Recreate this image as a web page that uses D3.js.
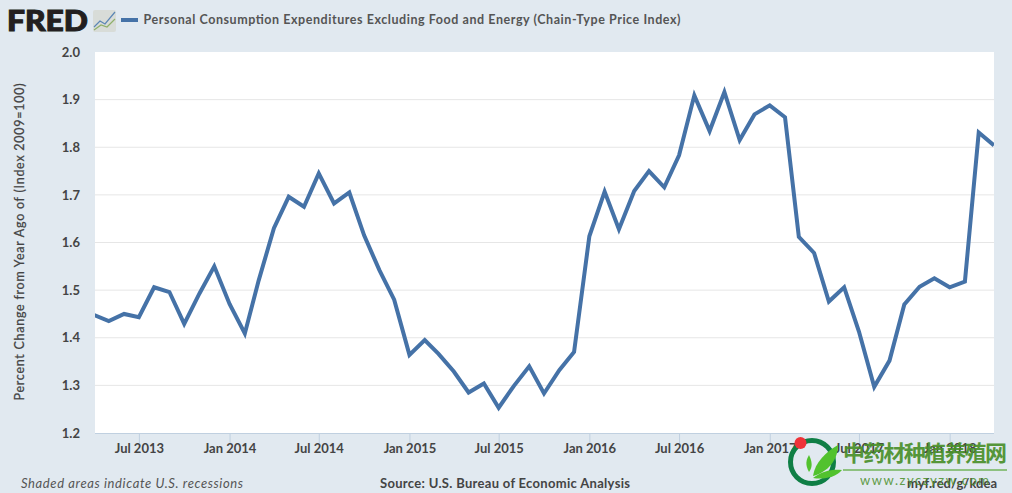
<!DOCTYPE html>
<html>
<head>
<meta charset="utf-8">
<script src="https://cdn.jsdelivr.net/npm/d3@7"></script>
<style>
  html, body { margin: 0; padding: 0; background: #e1e9f0; overflow: hidden; }
  text { font-family: Lato, "Open Sans", sans-serif; fill: #444; }
</style>
</head>
<body>
<svg id="chart" width="1012" height="493"></svg>
<script>
// monthly, Apr 2013 to Apr 2018
const startMonth = "2013-04-01"
const values = [
  1.448, 1.435, 1.450, 1.443, 1.506, 1.496, 1.429, 1.493, 1.550,
  1.471, 1.409, 1.520, 1.630, 1.696, 1.675, 1.745, 1.682, 1.705, 1.615, 1.542, 1.480,
  1.364, 1.395, 1.366, 1.329, 1.285, 1.304, 1.253, 1.299, 1.340, 1.283, 1.332, 1.370,
  1.613, 1.707, 1.628, 1.708, 1.750, 1.716, 1.783, 1.909, 1.834, 1.916, 1.815, 1.869,
  1.888, 1.863, 1.612, 1.578, 1.476, 1.506, 1.413, 1.297, 1.352, 1.470, 1.507, 1.525,
  1.506, 1.518, 1.831, 1.804
]
const yTicks = [1.2, 1.3, 1.4, 1.5, 1.6, 1.7, 1.8, 1.9, 2.0]
const xTickDates = ["2013-07-01", "2014-01-01", "2014-07-01", "2015-01-01", "2015-07-01",
  "2016-01-01", "2016-07-01", "2017-01-01", "2017-07-01", "2018-01-01"]
const seriesName = "Personal Consumption Expenditures Excluding Food and Energy (Chain-Type Price Index)"
const yTitle = "Percent Change from Year Ago of (Index 2009=100)"
const recessionNote = "Shaded areas indicate U.S. recessions"
const sourceNote = "Source: U.S. Bureau of Economic Analysis"
const shortUrl = "myf.red/g/kdea"

const parse = d3.utcParse("%Y-%m-%d")
const dates = d3.utcMonth.range(parse(startMonth), d3.utcMonth.offset(parse(startMonth), values.length))

const plotLeft = 95, plotRight = 994, plotTop = 52, plotBottom = 433

const x = d3.scaleUtc()
  .domain([parse("2013-04-03"), dates[dates.length - 1]])
  .range([plotLeft, plotRight])
const y = d3.scaleLinear().domain([1.2, 2.0]).range([plotBottom, plotTop])

const svg = d3.select("#chart")

svg.append("rect")
  .attr("x", plotLeft).attr("y", plotTop)
  .attr("width", plotRight - plotLeft).attr("height", plotBottom - plotTop)
  .attr("fill", "#fff")

svg.append("clipPath").attr("id", "plot")
  .append("rect")
  .attr("x", plotLeft).attr("y", plotTop)
  .attr("width", plotRight - plotLeft).attr("height", plotBottom - plotTop)

// grid
svg.append("g")
  .selectAll("line")
  .data(yTicks.filter(d => d > 1.2 && d < 2))
  .join("line")
  .attr("x1", plotLeft).attr("x2", plotRight)
  .attr("y1", d => y(d)).attr("y2", d => y(d))
  .attr("stroke", "#e6e6e6")

const xAxis = svg.append("g")
  .attr("transform", `translate(0,${plotBottom})`)
  .call(d3.axisBottom(x)
    .tickValues(xTickDates.map(parse))
    .tickFormat(d3.utcFormat("%b %Y"))
    .tickSize(10)
    .tickPadding(1))
xAxis.select(".domain").attr("stroke", "#c0d0e0").attr("d", `M${plotLeft},0.5H${plotRight}`)
xAxis.selectAll("line").attr("stroke", "#c0d0e0")
xAxis.selectAll("text")
  .attr("font-size", 13)
  .attr("font-weight", 700)
  .style("fill", "#444")
  .style("font-family", "Lato, sans-serif")

const yAxis = svg.append("g")
  .attr("transform", `translate(${plotLeft},0)`)
  .call(d3.axisLeft(y).tickValues(yTicks).tickFormat(d3.format(".1f")).tickSize(0).tickPadding(15))
yAxis.select(".domain").remove()
yAxis.selectAll("text")
  .attr("font-size", 13)
  .attr("font-weight", 700)
  .style("fill", "#444")
  .style("font-family", "Lato, sans-serif")

// series
const line = d3.line()
  .x((d, i) => x(dates[i]))
  .y(d => y(d))

svg.append("path")
  .datum(values)
  .attr("clip-path", "url(#plot)")
  .attr("d", line)
  .attr("fill", "none")
  .attr("stroke", "#4572a7")
  .attr("stroke-width", 4)
  .attr("stroke-linejoin", "miter")

// header
svg.append("text")
  .attr("x", 7).attr("y", 31)
  .attr("font-size", 28).attr("font-weight", 900)
  .attr("textLength", 81).attr("lengthAdjust", "spacingAndGlyphs")
  .style("fill", "#231f20")
  .style("stroke", "#231f20").style("stroke-width", 1)
  .text("FRED")

const badge = svg.append("g")
badge.append("rect")
  .attr("x", 93).attr("y", 10).attr("width", 23).attr("height", 22).attr("rx", 2)
  .attr("fill", "#d8dcd8")
badge.append("polyline")
  .attr("points", "94,27 100,21 105,24 115,12")
  .attr("fill", "none").attr("stroke", "#5b86b5").attr("stroke-width", 1.2)
badge.append("polyline")
  .attr("points", "94,30 101,25 107,27 115,19")
  .attr("fill", "none").attr("stroke", "#8fb06a").attr("stroke-width", 1.2)

svg.append("line")
  .attr("x1", 121).attr("x2", 138).attr("y1", 20).attr("y2", 20)
  .attr("stroke", "#4572a7").attr("stroke-width", 4)

svg.append("text")
  .attr("x", 143.5).attr("y", 24)
  .attr("font-size", 12.5).attr("font-weight", 700)
  .attr("textLength", 537).attr("lengthAdjust", "spacing")
  .style("fill", "#555")
  .text(seriesName)

svg.append("text")
  .attr("transform", "translate(24,242) rotate(-90)")
  .attr("text-anchor", "middle")
  .attr("font-size", 12.5)
  .attr("textLength", 317)
  .style("fill", "#444")
  .style("stroke", "#444").style("stroke-width", 0.25)
  .text(yTitle)

// footer
svg.append("text")
  .attr("x", 21).attr("y", 488)
  .attr("font-size", 13).attr("font-style", "italic")
  .attr("textLength", 222)
  .style("fill", "#555")
  .text(recessionNote)

svg.append("text")
  .attr("x", 380).attr("y", 488)
  .attr("font-size", 13).attr("font-weight", 700)
  .attr("textLength", 250)
  .style("fill", "#444")
  .text(sourceNote)

svg.append("text")
  .attr("x", 997).attr("y", 488)
  .attr("text-anchor", "end")
  .attr("font-size", 13).attr("font-weight", 700)
  .style("fill", "#444")
  .text(shortUrl)

// site watermark stamped over the corner
const stamp = svg.append("g")
stamp.append("circle")
  .attr("cx", 812).attr("cy", 462).attr("r", 21.5)
  .attr("fill", "none").attr("stroke", "#0f7f45").attr("stroke-width", 5)
stamp.append("circle")
  .attr("cx", 800.5).attr("cy", 443).attr("r", 6).attr("fill", "#ee3338")
stamp.append("path")
  .attr("d", "M813,476 C815,462 826,452 838,445 C838,460 828,472 813,476Z")
  .attr("fill", "#52c22e")
stamp.append("path")
  .attr("d", "M813,478 C822,471 832,469 842,470 C836,477 824,480 813,478Z")
  .attr("fill", "#52c22e")
stamp.append("path")
  .attr("d", "M809,472 C805,465 806,460 809,455 C812,461 813,467 809,472Z")
  .attr("fill", "#52c22e")
stamp.append("text")
  .attr("x", 843).attr("y", 461)
  .attr("font-size", 22).attr("font-weight", 700)
  .attr("textLength", 164)
  .style("font-family", '"Noto Sans CJK SC", sans-serif')
  .style("fill", "#4a8f2a")
  .attr("opacity", 0.92)
  .text("中药材种植养殖网")
stamp.append("line")
  .attr("x1", 843).attr("x2", 1007).attr("y1", 470).attr("y2", 470)
  .attr("stroke", "#3a9a10").attr("stroke-width", 1)
stamp.append("text")
  .attr("x", 860).attr("y", 485)
  .attr("font-size", 13)
  .attr("textLength", 129)
  .style("fill", "#4a8f2a")
  .attr("opacity", 0.85)
  .text("www.zyczyzw.com")
</script>
</body>
</html>
